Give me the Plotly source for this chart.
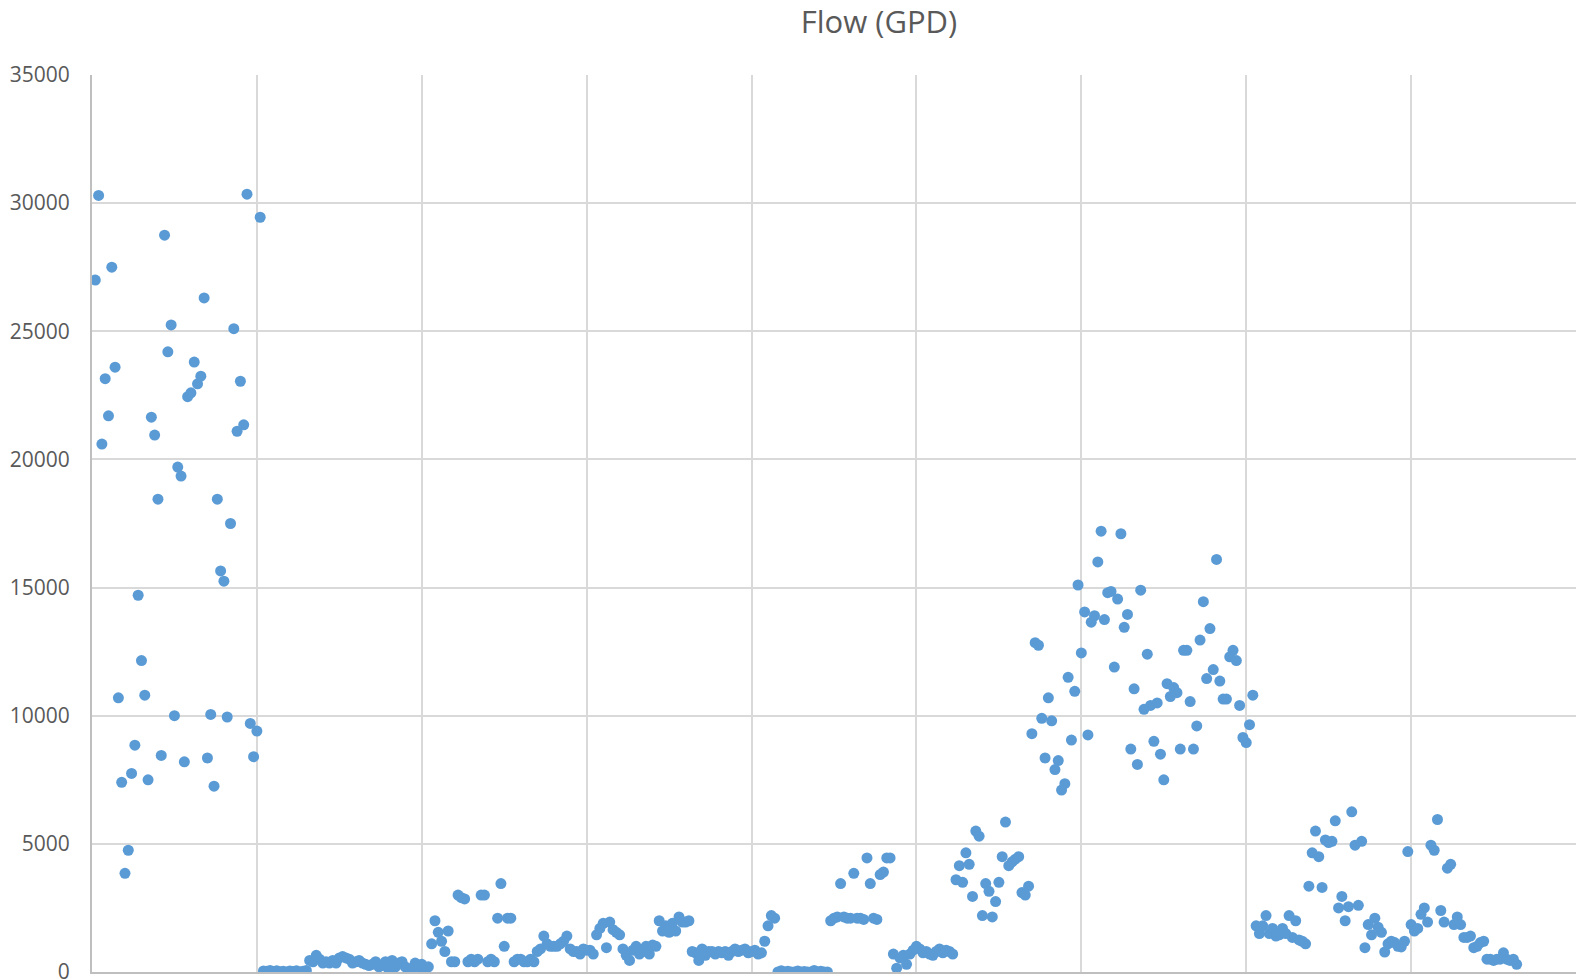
import plotly.graph_objects as go

# Flow (GPD) readings, grouped by gridline block of 50 samples
seg1 = [27000, 30300, 20600, 23150, 21700, 27500, 23600, 10700, 7400, 3850,
        4750, 7750, 8850, 14700, 12150, 10800, 7500, 21650, 20950, 18450,
        8450, 28750, 24200, 25250, 10000, 19700, 19350, 8200, 22450, 22600,
        23800, 22950, 23250, 26300, 8350, 10050, 7250, 18450, 15650, 15250,
        9950, 17500, 25100, 21100, 23050, 21350, 30350, 9700, 8400, 9400,
        29450]
seg2 = [40, 30, 60, 20, 50, 10, 30, 0, 40, 20, 50, 0, 30, 60,
        450, 400, 650, 500, 350, 400, 350, 450, 350, 550, 600, 550, 500, 350,
        400, 450, 350, 300, 250, 300, 400, 200, 250, 400, 100, 450, 200, 350,
        400, 200, 0, 150, 350, 200, 300]
seg3 = [100, 200, 1100, 2000, 1550, 1200, 800, 1600, 400, 400,
        3000, 2900, 2850, 400, 500, 400, 500, 3000, 3000, 400,
        500, 400, 2100, 3450, 1000, 2100, 2100, 400, 500, 500,
        400, 400, 500, 400, 800, 900, 1400, 1100, 1000, 1000,
        1000, 1100, 1200, 1400, 900, 800, 800, 700, 900, 850]
seg4 = [850, 700, 1450, 1700, 1900, 950, 1950, 1650, 1550, 1450,
        900, 650, 450, 850, 1000, 700, 800, 1000, 700, 1050,
        1000, 2000, 1600, 1800, 1550, 1900, 1600, 2150, 1950, 1950,
        2000, 800, 750, 450, 900, 650, 800, 800, 700, 800,
        750, 800, 650, 800, 900, 800, 850, 900, 750, 800]
seg5 = [850, 700, 750, 1200, 1800, 2200, 2100,
        0, 50, 0, 30, 0, 0, 40, 0, 20, 0, 0, 60, 0, 30, 0, 0,
        2000, 2100, 2150, 3450, 2150, 2100, 2100, 3850, 2100, 2100,
        2050, 4450, 3450, 2100, 2050, 3800, 3900, 4450, 4450, 700,
        150, 550, 650, 300, 700, 850, 1000]
seg6 = [900, 750, 800, 700, 650, 800, 900, 750, 850, 800, 700,
        3600, 4150, 3500, 4650, 4200, 2950, 5500, 5300, 2200, 3450,
        3150, 2150, 2750, 3500, 4500, 5850, 4150, 4300, 4400, 4500,
        3100, 3000, 3350, 9300, 12850, 12750, 9900, 8350, 10700, 9800,
        7900, 8250, 7100, 7350, 11500, 9050, 10950, 15100, 12450]
seg7 = [14050, 9250, 13650, 13900, 16000, 17200, 13750, 14800, 14850, 11900,
        14550, 17100, 13450, 13950, 8700, 11050, 8100, 14900, 10250, 12400,
        10400, 9000, 10500, 8500, 7500, 11250, 10750, 11100, 10900, 8700,
        12550, 12550, 10550, 8700, 9600, 12950, 14450, 11450, 13400, 11800,
        16100, 11350, 10650, 10650, 12300, 12550, 12150, 10400, 9150, 8950,
        9650, 10800]
seg8 = [1800, 1500, 1800, 2200, 1500, 1700, 1400, 1450, 1700, 1500,
        2200, 1350, 2000, 1250, 1200, 1100, 3350, 4650, 5500, 4500,
        3300, 5150, 5050, 5100, 5900, 2500, 2950, 2000, 2550, 6250,
        4950, 2600, 5100, 950, 1850, 1450, 2100, 1750, 1550, 780,
        1100, 1200, 1150, 1000, 980, 1200]
seg9 = [4700, 1850, 1600, 1700, 2250, 2500, 1950, 4950, 4750, 5950,
        2400, 1950, 4050, 4200, 1850, 2150, 1850, 1350, 1350, 1400,
        950, 1000, 1150, 1200, 500, 500, 450, 500, 500, 750,
        500, 450, 500, 300]

flow = seg1 + seg2 + seg3 + seg4 + seg5 + seg6 + seg7 + seg8 + seg9
sample = list(range(1, len(flow) + 1))

y_ticks = [0, 5000, 10000, 15000, 20000, 25000, 30000, 35000]

GRID = "#d9d9d9"
TXT = "#595959"

fig = go.Figure()
fig.add_trace(go.Scatter(
    x=sample, y=flow, mode="markers",
    marker=dict(color="#5b9bd5", size=11, line=dict(width=0)),
    name="Flow (GPD)", showlegend=False,
))

fig.update_layout(
    width=1577, height=980,
    paper_bgcolor="white", plot_bgcolor="white",
    margin=dict(l=92, r=1, t=75, b=8, autoexpand=False),
    font=dict(family="Open Sans, Noto Sans, sans-serif", color=TXT),
    title=dict(text="Flow (GPD)", x=879 / 1577, xanchor="center",
               y=1 - 22 / 980, yanchor="middle",
               font=dict(size=31, color=TXT)),
)
fig.update_xaxes(
    range=[0, 450], dtick=50, tick0=0,
    showticklabels=False, ticks="", automargin=False,
    showgrid=True, gridcolor=GRID, gridwidth=2,
    zeroline=False,
    showline=True, linecolor="#bfbfbf", linewidth=2, mirror=False,
)
fig.update_yaxes(
    range=[0, 35000], tickvals=y_ticks,
    ticktext=[str(v) for v in y_ticks],
    tickfont=dict(size=21, color=TXT), ticks="", automargin=False,
    ticklabelstandoff=16, ticklabeloverflow="allow",
    showgrid=True, gridcolor=GRID, gridwidth=2,
    zeroline=False,
    showline=True, linecolor="#bfbfbf", linewidth=2,
)

fig.write_html(
    "out.html",
    config={"displayModeBar": False},
    post_script="document.body.style.margin='0';document.body.style.overflow='hidden';",
)
